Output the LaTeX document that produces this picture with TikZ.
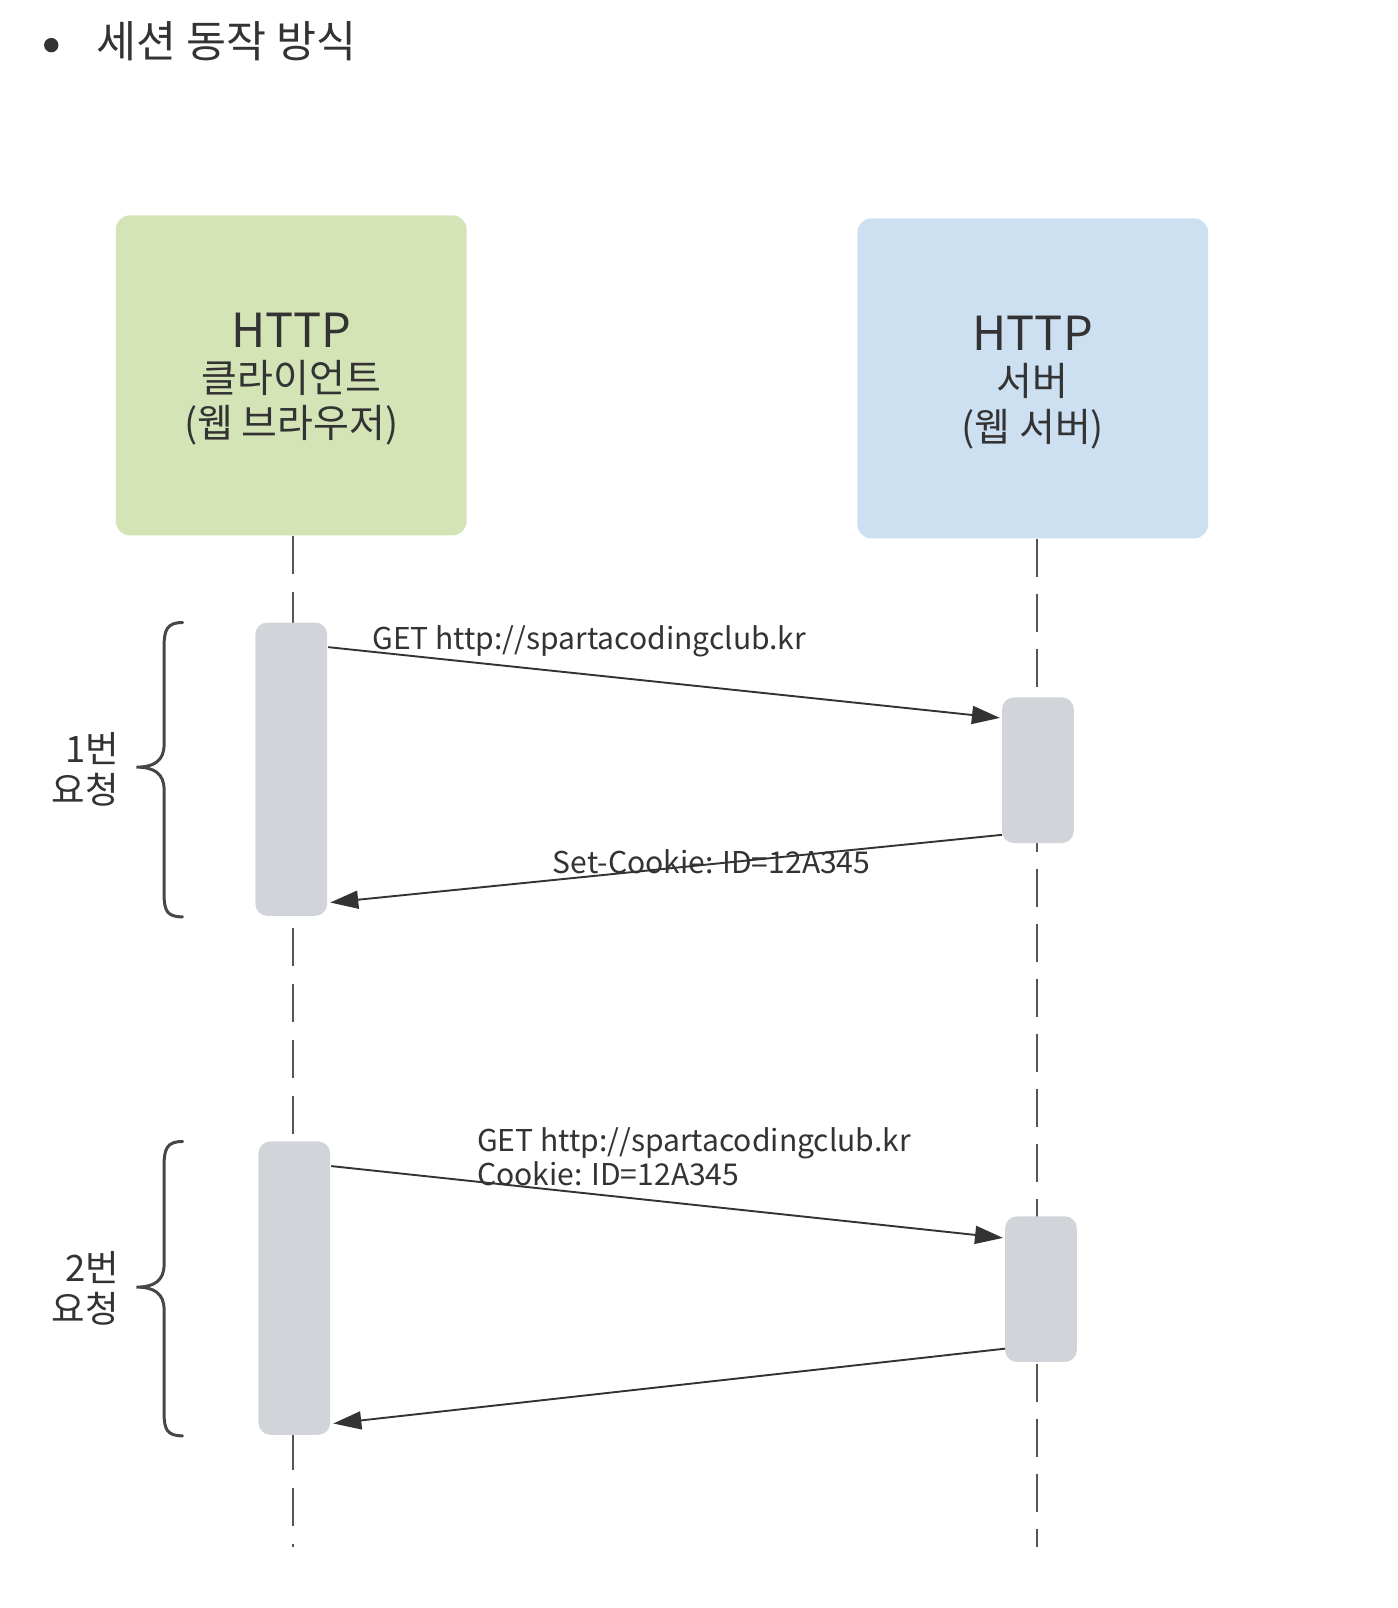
\documentclass[tikz,border=0pt]{standalone}
\usepackage{fontspec}
\setmainfont{Noto Sans CJK KR}
\usetikzlibrary{arrows.meta}
\definecolor{ink}{HTML}{333333}
\definecolor{cgreen}{HTML}{D4E4B6}
\definecolor{cblue}{HTML}{CDE0F1}
\definecolor{cbar}{HTML}{D1D4D9}
\definecolor{cline}{HTML}{555555}
\begin{document}
\begin{tikzpicture}[x=1.0256pt,y=-1.0256pt,
  every node/.append style={scale=1.0256},
  box/.style={draw=none,rounded corners=14pt,minimum width=342pt,minimum height=312pt,inner sep=0pt},
  boxtext/.style={align=center,text=ink,font=\fontsize{38}{44}\selectfont,inner sep=0pt},
  actbar/.style={fill=cbar,draw=none,rounded corners=12pt,minimum width=70pt,inner sep=0pt},
  life/.style={draw=cline,line width=2pt,dash pattern=on 38pt off 18pt},
  msg/.style={draw=ink,line width=1.9pt,-{Triangle[length=28pt,width=18pt]}},
  msglabel/.style={text=ink,font=\fontsize{29.3}{33}\selectfont,inner sep=0pt,align=left},
  brc/.style={draw=ink!90,line width=3pt,line cap=round},
  reqlabel/.style={text=ink,font=\fontsize{35.5}{40}\selectfont,align=right,inner sep=0pt}]
\useasboundingbox[fill=white] (0,0) rectangle (1363.1,1567.9);

% title
\node[circle,fill=ink,inner sep=0pt,minimum size=14pt] (bullet) at (50,44) {};
\node[anchor=west,text=ink,font=\fontsize{42.4}{48}\selectfont,inner sep=0pt] (title) at (94,40) {세션 동작 방식};

% boxes
\node[box,fill=cgreen] (client) at (284,366) {};
\node[box,fill=cblue] (server) at (1007,369) {};
\node[boxtext] (clienttext) at (284,370) {{\fontsize{45.8}{44}\selectfont HTTP}\\클라이언트\\(웹 브라우저)};
\node[boxtext] (servertext) at (1007,373) {{\fontsize{45.8}{44}\selectfont HTTP}\\서버\\(웹 서버)};

% lifelines
\coordinate (cl-end) at (286,1508);
\coordinate (sl-end) at (1011,1508);
\draw[life] (client.south -| cl-end) -- (cl-end);
\draw[life,dash pattern=on 38pt off 17pt] (server.south -| sl-end) -- (sl-end);

% activation bars
\node[actbar,minimum height=286pt] (c1) at (284,750) {};
\node[actbar,minimum height=142pt] (s1) at (1012,751) {};
\node[actbar,minimum height=286pt] (c2) at (287,1256) {};
\node[actbar,minimum height=142pt] (s2) at (1015,1257) {};

% messages
\coordinate (m1s) at (320,631);
\coordinate (m1e) at (975,700);
\coordinate (m2s) at (977,814);
\coordinate (m2e) at (322,880);
\coordinate (m3s) at (323,1137);
\coordinate (m3e) at (978,1207);
\coordinate (m4s) at (980,1315);
\coordinate (m4e) at (325,1388);
\draw[msg] (m1s) -- (m1e);
\draw[msg] (m2s) -- (m2e);
\draw[msg] (m3s) -- (m3e);
\draw[msg] (m4s) -- (m4e);

\node[msglabel,anchor=west] (l1) at (363,625) {GET http://spartacodingclub.kr};
\node[msglabel,anchor=west] (l2) at (539,840) {Set-Cookie: ID=12A345};
\node[msglabel,anchor=west] (l3) at (465,1128) {GET http://spartacodingclub.kr\\Cookie: ID=12A345};

% braces
\draw[brc] (178,607) .. controls (163,607) and (160,614) .. (160,630) -- (160,726)
  .. controls (160,742) and (150,748) .. (133,748)
  .. controls (150,748) and (160,754) .. (160,770) -- (160,872)
  .. controls (160,888) and (163,894) .. (178,894);
\draw[brc] (178,1113) .. controls (163,1113) and (160,1120) .. (160,1136) -- (160,1233)
  .. controls (160,1249) and (150,1255) .. (133,1255)
  .. controls (150,1255) and (160,1261) .. (160,1277) -- (160,1378)
  .. controls (160,1394) and (163,1400) .. (178,1400);

\node[reqlabel,anchor=east] (r1) at (116,750) {1번\\요청};
\node[reqlabel,anchor=east] (r2) at (116,1256) {2번\\요청};
\end{tikzpicture}
\end{document}
